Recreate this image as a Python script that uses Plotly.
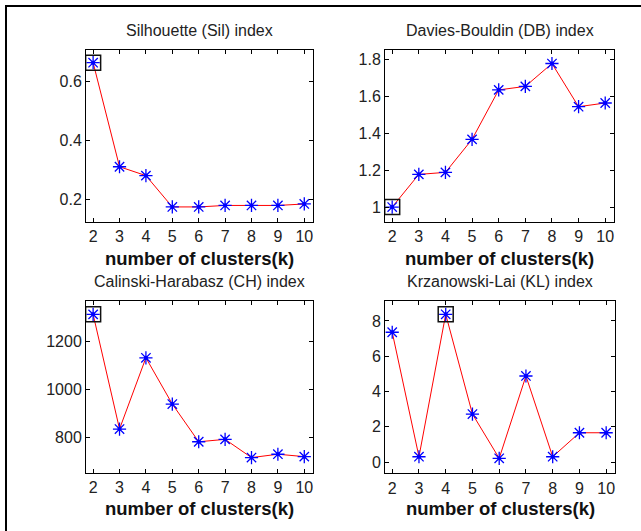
import plotly.graph_objects as go

W, H = 641, 531

k = [2, 3, 4, 5, 6, 7, 8, 9, 10]
sil = [0.662, 0.310, 0.280, 0.174, 0.174, 0.179, 0.179, 0.179, 0.184]
db = [1.000, 1.177, 1.188, 1.367, 1.635, 1.654, 1.778, 1.544, 1.564]
ch = [1314, 836, 1133, 940, 783, 793, 717, 731, 721]
kl = [7.36, 0.30, 8.38, 2.72, 0.21, 4.88, 0.30, 1.66, 1.66]

titles = ["Silhouette (Sil) index", "Davies-Bouldin (DB) index",
          "Calinski-Harabasz (CH) index", "Krzanowski-Lai (KL) index"]
best_k = [2, 2, 2, 4]
xlabel = "number of clusters(k)"

series = [sil, db, ch, kl]
yranges = [[0.123, 0.705], [0.919, 1.854], [654, 1371], [-0.64, 9.15]]
yticks = [[0.2, 0.4, 0.6], [1, 1.2, 1.4, 1.6, 1.8], [800, 1000, 1200], [0, 2, 4, 6, 8]]
ytext = [["0.2", "0.4", "0.6"], ["1", "1.2", "1.4", "1.6", "1.8"],
         ["800", "1000", "1200"], ["0", "2", "4", "6", "8"]]

# pixel boxes (x0, x1, y0_top, y1_bottom)
boxes = [(86, 313, 50, 222), (385, 614, 49.5, 222),
         (86, 313, 300.7, 472.7), (385, 615, 300.7, 473.3)]

FONT = "Liberation Sans, Arial, sans-serif"
TXT = "#222222"

fig = go.Figure()
annotations = []
layout_axes = {}
for i in range(4):
    x0, x1, yt, yb = boxes[i]
    xa = "xaxis" if i == 0 else f"xaxis{i+1}"
    ya = "yaxis" if i == 0 else f"yaxis{i+1}"
    xr = "x" if i == 0 else f"x{i+1}"
    yr = "y" if i == 0 else f"y{i+1}"
    layout_axes[xa] = dict(domain=[x0 / W, x1 / W], range=[1.73, 10.33], anchor=yr,
                           tickmode="array", tickvals=k, ticktext=[str(v) for v in k],
                           ticks="inside", ticklen=4, tickcolor="black",
                           showline=True, linecolor="black", linewidth=1, mirror="ticks",
                           showgrid=False, zeroline=False,
                           tickfont=dict(family=FONT, size=16, color=TXT))
    layout_axes[ya] = dict(domain=[1 - yb / H, 1 - yt / H], range=yranges[i], anchor=xr,
                           tickmode="array", tickvals=yticks[i], ticktext=ytext[i],
                           ticks="inside", ticklen=4, tickcolor="black",
                           showline=True, linecolor="black", linewidth=1, mirror="ticks",
                           showgrid=False, zeroline=False,
                           tickfont=dict(family=FONT, size=16, color=TXT))
    vals = series[i]
    fig.add_trace(go.Scatter(x=k, y=vals, mode="lines", line=dict(color="red", width=1),
                             xaxis=xr, yaxis=yr, showlegend=False))
    fig.add_trace(go.Scatter(x=k, y=vals, mode="markers",
                             marker=dict(symbol="asterisk-open", size=11, color="blue",
                                         line=dict(color="blue", width=1.3)),
                             xaxis=xr, yaxis=yr, showlegend=False))
    fig.add_trace(go.Scatter(x=k, y=vals, mode="markers",
                             marker=dict(symbol="circle", size=4, color="blue"),
                             xaxis=xr, yaxis=yr, showlegend=False))
    bi = k.index(best_k[i])
    fig.add_trace(go.Scatter(x=[best_k[i]], y=[vals[bi]], mode="markers",
                             marker=dict(symbol="square-open", size=15, color="#111111",
                                         line=dict(color="#111111", width=1.5)),
                             xaxis=xr, yaxis=yr, showlegend=False))
    cx = (x0 + x1) / 2 / W
    ty = 31 if i < 2 else 281.7
    annotations.append(dict(text=titles[i], x=cx, y=1 - ty / H, xref="paper", yref="paper",
                            xanchor="center", yanchor="middle", showarrow=False,
                            font=dict(family=FONT, size=16, color=TXT)))
    xty = 258 if i < 2 else 508
    annotations.append(dict(text="<b>" + xlabel + "</b>", x=cx, y=1 - xty / H,
                            xref="paper", yref="paper", xanchor="center", yanchor="middle",
                            showarrow=False, font=dict(family=FONT, size=18.5, color="#111111")))

fig.update_layout(width=W, height=H, margin=dict(l=0, r=0, t=0, b=0),
                  paper_bgcolor="white", plot_bgcolor="white",
                  annotations=annotations,
                  shapes=[dict(type="rect", xref="paper", yref="paper", layer="above",
                               x0=6 / W, x1=1.2, y0=-0.2, y1=1 - 6 / H,
                               line=dict(color="black", width=2))],
                  **layout_axes)

fig.write_html("out.html", config={"displayModeBar": False},
               post_script="document.body.style.margin='0px';document.body.style.padding='0px';")
